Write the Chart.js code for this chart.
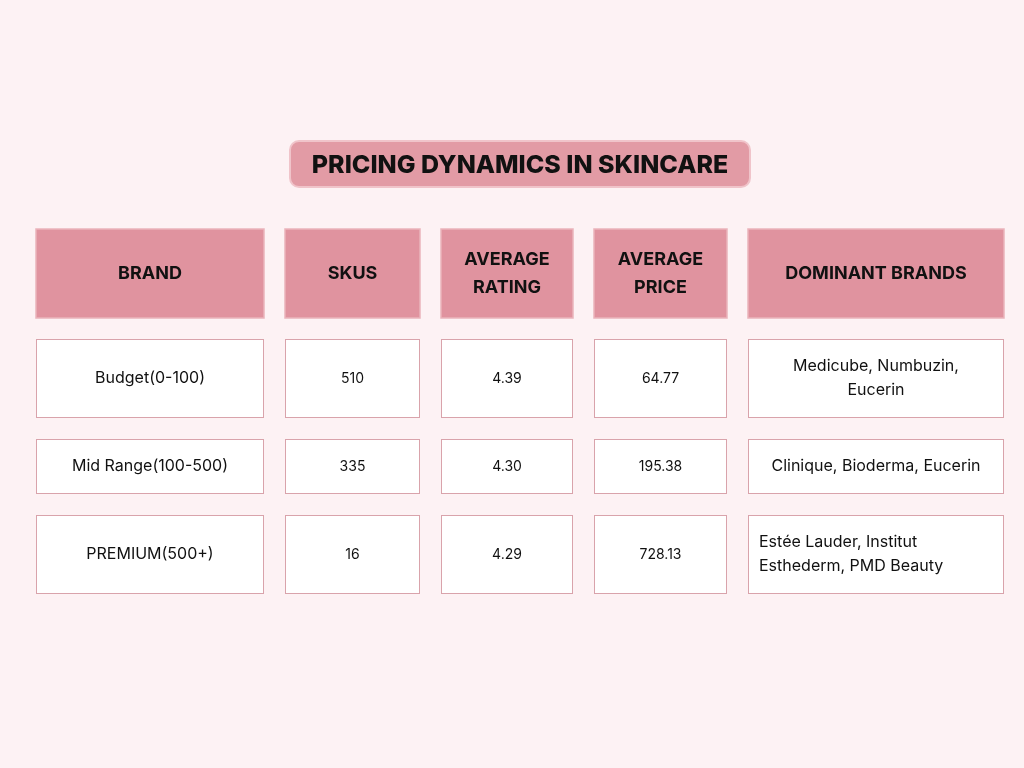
<!DOCTYPE html>
<html>
<head>
<meta charset="utf-8">
<script src="https://cdn.jsdelivr.net/npm/chart.js@4"></script>
<style>
  html, body { margin: 0; padding: 0; background: #fdf2f4; }
  #wrap { width: 1024px; height: 768px; }
</style>
</head>
<body>
<div id="wrap"><canvas id="myChart" width="1024" height="768"></canvas></div>
<script>
// Table content
const title = "PRICING DYNAMICS IN SKINCARE";
const headers = [["BRAND"], ["SKUS"], ["AVERAGE", "RATING"], ["AVERAGE", "PRICE"], ["DOMINANT BRANDS"]];
const segments = ["Budget(0-100)", "Mid Range(100-500)", "PREMIUM(500+)"];
const skus = [510, 335, 16];
const avgRating = ["4.39", "4.30", "4.29"];
const avgPrice = ["64.77", "195.38", "728.13"];
const dominant = [["Medicube, Numbuzin,", "Eucerin"], ["Clinique, Bioderma, Eucerin"], ["Estée Lauder, Institut", "Esthederm, PMD Beauty"]];

// Layout (in scale units, page-sized scales)
const colEdges = [[36, 264], [285, 420], [441, 573], [594, 727], [748, 1004]];
const headerRow = [229, 318];
const rowEdges = [[339, 418], [439, 494], [515, 594]];
const titleBox = [290, 750, 141, 187];
const FONT = "Inter, 'Noto Sans', sans-serif";

const tablePlugin = {
  id: "table",
  afterDraw(chart) {
    const ctx = chart.ctx;
    const x = chart.scales.x, y = chart.scales.y;
    const px = (v) => x.getPixelForValue(v);
    const py = (v) => y.getPixelForValue(v);

    const drawLines = (lines, cx, cy, font, lh) => {
      ctx.font = font;
      ctx.fillStyle = "#111";
      ctx.textAlign = "center";
      ctx.textBaseline = "middle";
      const start = cy - (lines.length - 1) * lh / 2;
      lines.forEach((l, i) => ctx.fillText(l, cx, start + i * lh));
    };

    ctx.save();
    // title
    const [tx0, tx1, ty0, ty1] = titleBox;
    ctx.beginPath();
    ctx.roundRect(px(tx0), py(ty0), px(tx1) - px(tx0), py(ty1) - py(ty0), 9);
    ctx.fillStyle = "#e29ba5";
    ctx.fill();
    ctx.lineWidth = 2;
    ctx.strokeStyle = "#f0c4ca";
    ctx.stroke();
    drawLines([title], (px(tx0) + px(tx1)) / 2, (py(ty0) + py(ty1)) / 2 + 1, "800 25px " + FONT, 0);

    // header
    colEdges.forEach((c, i) => {
      const x0 = px(c[0]), x1 = px(c[1]), y0 = py(headerRow[0]), y1 = py(headerRow[1]);
      ctx.fillStyle = "#e0939f";
      ctx.fillRect(x0, y0, x1 - x0, y1 - y0);
      ctx.strokeStyle = "#eab4bb";
      ctx.lineWidth = 1.5;
      ctx.strokeRect(x0, y0, x1 - x0, y1 - y0);
      drawLines(headers[i], (x0 + x1) / 2, (y0 + y1) / 2, "bold 18px " + FONT, 28);
    });

    // body
    rowEdges.forEach((r, ri) => {
      const cells = [[segments[ri]], [String(skus[ri])], [avgRating[ri]], [avgPrice[ri]], dominant[ri]];
      colEdges.forEach((c, ci) => {
        const x0 = px(c[0]), x1 = px(c[1]), y0 = py(r[0]), y1 = py(r[1]);
        ctx.fillStyle = "#ffffff";
        ctx.fillRect(x0, y0, x1 - x0, y1 - y0);
        ctx.strokeStyle = "#d9a3ab";
        ctx.lineWidth = 1;
        ctx.strokeRect(x0 + 0.5, y0 + 0.5, x1 - x0 - 1, y1 - y0 - 1);
        const big = ci === 0 || ci === 4;
        const font = big ? "16px " + FONT : "14px " + FONT;
        if (ci === 4 && ri === 2) {
          ctx.font = font;
          ctx.fillStyle = "#111";
          ctx.textAlign = "left";
          ctx.textBaseline = "middle";
          const cy = (y0 + y1) / 2;
          cells[ci].forEach((l, i) => ctx.fillText(l, x0 + 11, cy - 12 + i * 24));
        } else {
          drawLines(cells[ci], (x0 + x1) / 2, (y0 + y1) / 2, font, 24);
        }
      });
    });
    ctx.restore();
  }
};

new Chart(document.getElementById("myChart"), {
  type: "scatter",
  data: { datasets: [{ data: [] }] },
  options: {
    responsive: false,
    animation: false,
    layout: { padding: 0 },
    plugins: { legend: { display: false }, tooltip: { enabled: false } },
    scales: {
      x: { type: "linear", min: 0, max: 1024, display: false },
      y: { type: "linear", min: 0, max: 768, reverse: true, display: false }
    }
  },
  plugins: [tablePlugin]
});
</script>
</body>
</html>
